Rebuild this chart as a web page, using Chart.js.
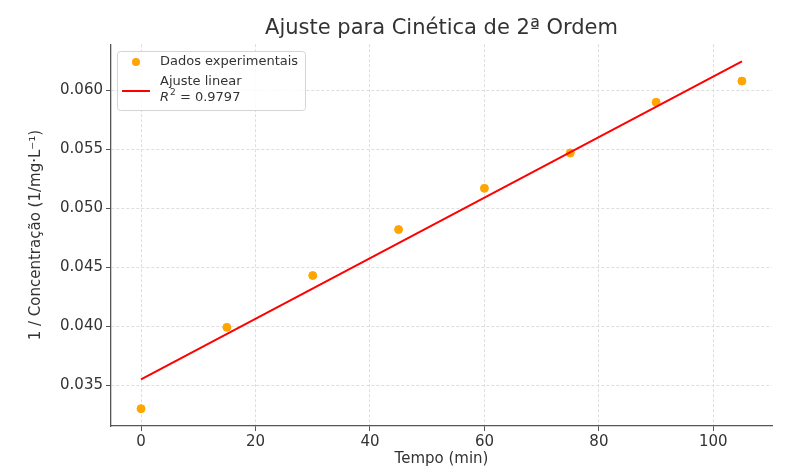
<!DOCTYPE html>
<html lang="pt">
<head>
	<meta charset="UTF-8">
	<title>Ajuste para Cinética de 2ª Ordem</title>
	<script src="https://cdn.jsdelivr.net/npm/chart.js@4.4.1/dist/chart.umd.min.js"></script>
	<style>
		body { margin: 0; background: #fff; }
		#wrap { width: 805px; height: 468px; }
	</style>
</head>
<body>
<div id="wrap"><canvas id="kinChart" width="805" height="468"></canvas></div>

<script>
// dados
const tempo = [0, 15, 30, 45, 60, 75, 90, 105];
const invConc = [0.0330, 0.0399, 0.0443, 0.0482, 0.0517, 0.0547, 0.0590, 0.0608];

// reta ajustada (extremos)
const fitX = [0, 105];
const fitY = [0.03548, 0.06248];

const xTicks = [0, 20, 40, 60, 80, 100];
const yTicks = [0.035, 0.040, 0.045, 0.050, 0.055, 0.060];

const titleText = 'Ajuste para Cinética de 2ª Ordem';
const xLabel = 'Tempo (min)';
const yLabel = '1 / Concentração (1/mg·L⁻¹)';
const legendPoints = 'Dados experimentais';
const legendFit = 'Ajuste linear';
const r2Value = '0.9797';

const FONT = "'DejaVu Sans', sans-serif";
const textColor = '#333';

// legend drawn by hand because of the 2-line label with R²
const boxLegend = {
	id: 'boxLegend',
	afterDraw(chart) {
		const ctx = chart.ctx;
		ctx.save();
		ctx.fillStyle = 'rgba(255,255,255,0.85)';
		ctx.strokeStyle = '#d4d4d4';
		ctx.lineWidth = 1;
		ctx.beginPath();
		ctx.roundRect(117.5, 51.5, 188, 59, 3);
		ctx.fill();
		ctx.stroke();

		ctx.fillStyle = 'orange';
		ctx.beginPath();
		ctx.arc(136, 62, 4, 0, Math.PI * 2);
		ctx.fill();

		ctx.strokeStyle = 'red';
		ctx.lineWidth = 2;
		ctx.beginPath();
		ctx.moveTo(122, 91);
		ctx.lineTo(150, 91);
		ctx.stroke();

		ctx.fillStyle = textColor;
		ctx.textBaseline = 'middle';
		ctx.font = "13px " + FONT;
		ctx.fillText(legendPoints, 160, 62);
		ctx.fillText(legendFit, 160, 82);
		ctx.font = "italic 13px " + FONT;
		ctx.fillText('R', 160, 98);
		let x = 160 + ctx.measureText('R').width + 1;
		ctx.font = "9px " + FONT;
		ctx.fillText('2', x, 93);
		x += ctx.measureText('2').width;
		ctx.font = "13px " + FONT;
		ctx.fillText(' = ' + r2Value, x, 98);
		ctx.restore();
	}
};

const ctx = document.getElementById('kinChart').getContext('2d');
const kinChart = new Chart(ctx, {
	type: 'scatter',
	data: {
		datasets: [
			{
				label: legendFit,
				data: fitX.map((v, i) => ({ x: v, y: fitY[i] })),
				showLine: true,
				borderColor: 'red',
				borderWidth: 2,
				pointRadius: 0,
				order: 0
			},
			{
				label: legendPoints,
				data: tempo.map((v, i) => ({ x: v, y: invConc[i] })),
				backgroundColor: 'orange',
				borderColor: 'orange',
				pointRadius: 4,
				order: 1
			}
		]
	},
	options: {
		responsive: false,
		animation: false,
		layout: { padding: { left: 0, right: 33, top: 0, bottom: 0 } },
		plugins: {
			legend: { display: false },
			tooltip: { enabled: false },
			title: {
				display: true,
				text: titleText,
				fullSize: false,
				color: textColor,
				font: { family: FONT, size: 21, weight: 'normal' },
				padding: { top: 16, bottom: 3 }
			}
		},
		scales: {
			x: {
				type: 'linear',
				min: -5.25,
				max: 110.25,
				afterBuildTicks: s => { s.ticks = xTicks.map(v => ({ value: v })); },
				afterFit: s => { s.height = 42; },
				grid: { color: '#dedede', lineWidth: 1, tickColor: '#555', tickLength: 5, tickBorderDash: [] },
				border: { display: true, color: '#555', width: 1.3, dash: [3, 2] },
				ticks: { color: textColor, padding: 2, font: { family: FONT, size: 15 } },
				title: {
					display: true, text: xLabel, color: textColor,
					font: { family: FONT, size: 15 }, padding: { top: 0, bottom: 0 }
				}
			},
			y: {
				type: 'linear',
				min: 0.03153,
				max: 0.06393,
				afterBuildTicks: s => { s.ticks = yTicks.map(v => ({ value: v })); },
				afterFit: s => { s.width = 111; },
				grid: { color: '#dedede', lineWidth: 1, tickColor: '#555', tickLength: 5, tickBorderDash: [] },
				border: { display: true, color: '#555', width: 1.3, dash: [3, 2] },
				ticks: {
					color: textColor, padding: 3, font: { family: FONT, size: 15 },
					callback: v => v.toFixed(3)
				},
				title: {
					display: true, text: yLabel, color: textColor,
					font: { family: FONT, size: 15 }, padding: { top: 27, bottom: 0 }
				}
			}
		}
	},
	plugins: [boxLegend]
});
</script>
</body>
</html>
